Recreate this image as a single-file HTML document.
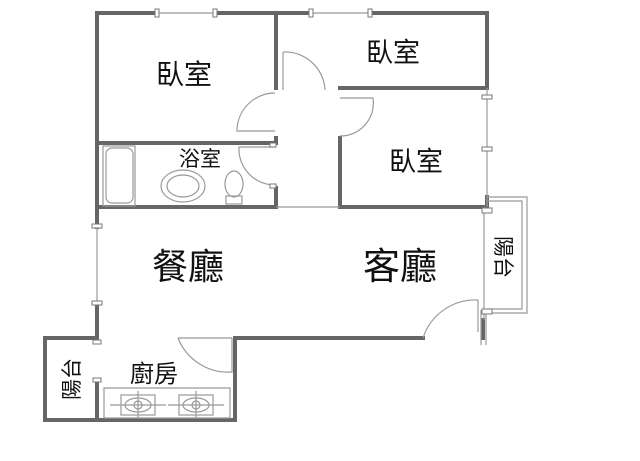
<!DOCTYPE html>
<html><head><meta charset="utf-8"><style>
html,body{margin:0;padding:0;background:#fff;width:640px;height:461px;overflow:hidden}
text{font-family:"Liberation Sans","Noto Sans CJK TC",sans-serif;fill:#111}
</style></head><body>
<svg width="640" height="461" viewBox="0 0 640 461" xmlns="http://www.w3.org/2000/svg">
<g stroke="#666" stroke-width="4" fill="none" stroke-linecap="square">
<path d="M97 13 H157 M215 13 H311 M370 13 H487 V88"/>
<path d="M97 13 V227 M97 303 V338"/>
<path d="M97 143 H276"/>
<path d="M97 207 H276"/>
<path d="M276 13 V88 M276 138 V143 M276 188 V207"/>
<path d="M340 88 H487"/>
<path d="M340 138 V207 H487"/>
<path d="M487 197 V207"/>
<path d="M97 338 H45 V420 H235 V338"/>
<path d="M235 338 H423"/>
<path d="M97 338 V340 M97 380 V420"/>
<path d="M483 320 V338"/>
</g>
<g stroke="#999" stroke-width="1.2" fill="none">
<path d="M157 13 H215 M311 13 H370"/>
<path d="M97 227 V303"/>
<path d="M276 207 H340"/>
<path d="M487 88 V207"/>
<path d="M484 207 V320"/>
<path d="M487 197 H527 V313 H487 M487 201 H522 V309 H487"/>
<path d="M104 388 H230 V418 H104 Z"/>
<path d="M178 338 H232"/>
<path d="M283 52 V90 M283 52 A40 40 0 0 1 325 90"/>
<path d="M275 93 A38 38 0 0 0 237 131 H275"/>
<path d="M239 147 H275 M239 147 A36 36 0 0 0 275 185"/>
<path d="M340 98 H373 A33 33 0 0 1 340 136"/>
<path d="M478 300 A55 55 0 0 0 423 338 M478 300 V332"/>
<path d="M232 338 V372 A54 54 0 0 1 178 338"/>
<path d="M481 310 V345 M486 310 V345"/>
<rect x="106" y="148" width="27" height="55" rx="6"/>
<rect x="103" y="146" width="32" height="60"/>
<ellipse cx="183" cy="186" rx="22" ry="16"/>
<ellipse cx="183" cy="186" rx="16" ry="11"/>
<ellipse cx="234" cy="184" rx="9" ry="13"/>
<rect x="226" y="196" width="16" height="8"/>
<rect x="121" y="395" width="34" height="20"/><ellipse cx="138" cy="405" rx="13" ry="7"/><circle cx="138" cy="405" r="4"/>
<path d="M110 405 H166 M138 391 V419"/>
<rect x="179" y="395" width="34" height="20"/><ellipse cx="196" cy="405" rx="13" ry="7"/><circle cx="196" cy="405" r="4"/>
<path d="M168 405 H224 M196 391 V419"/>
</g>
<g fill="#fff" stroke="#777" stroke-width="1">
<rect x="155" y="9" width="4" height="8"/><rect x="213" y="9" width="4" height="8"/>
<rect x="309" y="9" width="4" height="8"/><rect x="368" y="9" width="4" height="8"/>
<rect x="92" y="224" width="10" height="4"/><rect x="92" y="301" width="10" height="4"/>
<rect x="482" y="95" width="10" height="4"/><rect x="482" y="147" width="10" height="4"/>
<rect x="482" y="208" width="10" height="5"/><rect x="482" y="309" width="10" height="5"/>
<rect x="93" y="340" width="8" height="4"/><rect x="93" y="378" width="8" height="4"/>
<rect x="270" y="143" width="6" height="4"/><rect x="270" y="184" width="6" height="4"/>
</g>
<text x="184" y="84" font-size="28" text-anchor="middle">臥室</text>
<text x="393" y="62" font-size="27" text-anchor="middle">臥室</text>
<text x="416" y="171" font-size="27" text-anchor="middle">臥室</text>
<text x="200" y="166" font-size="21" text-anchor="middle">浴室</text>
<text x="188" y="279" font-size="36" text-anchor="middle">餐廳</text>
<text x="400" y="279" font-size="37" text-anchor="middle">客廳</text>
<text x="154" y="382" font-size="24" text-anchor="middle">廚房</text>
<text transform="translate(496,257) rotate(90)" font-size="21" text-anchor="middle">陽台</text>
<text transform="translate(79,379) rotate(-90)" font-size="21" text-anchor="middle">陽台</text>
</svg>
</body></html>
